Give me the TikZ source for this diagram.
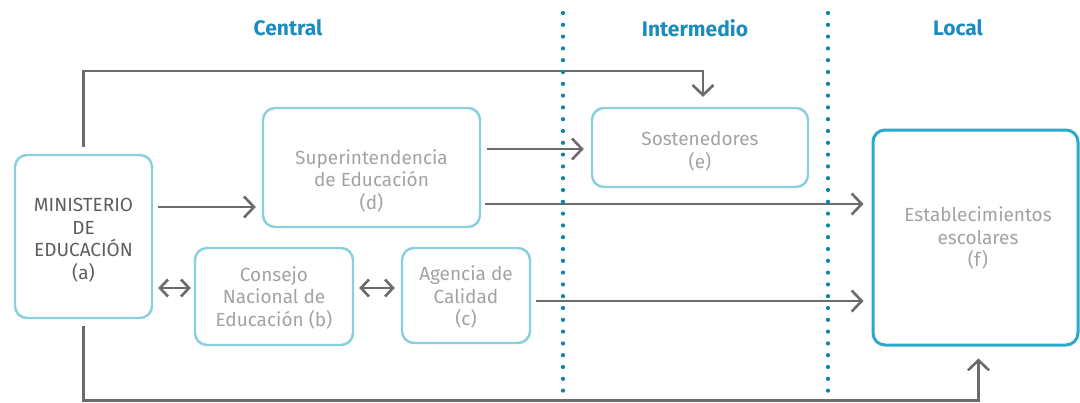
\documentclass[tikz,border=0pt]{standalone}
\usepackage{fontspec}
\setmainfont{Fira Sans}
\usetikzlibrary{arrows.meta}
\definecolor{boxc}{HTML}{8ACFDF}
\definecolor{boxf}{HTML}{2AA9CB}
\definecolor{arrc}{HTML}{6B6B6B}
\definecolor{txtc}{HTML}{A3A3A3}
\definecolor{txta}{HTML}{5E5E5E}
\definecolor{headc}{HTML}{1C8CC0}
\definecolor{dotc}{HTML}{0B84AE}
\begin{document}
\begin{tikzpicture}[x=1pt,y=-1pt,
  box/.style={draw=boxc, line width=2.4pt, rounded corners=12pt, inner sep=0pt},
  boxtext/.style={align=center, text=txtc, font=\fontsize{19}{22.5}\selectfont, inner sep=0pt},
  arr/.style={draw=arrc, line width=2.6pt, -{Straight Barb[length=10pt,width=21pt]}},
  darr/.style={draw=arrc, line width=2.6pt, {Straight Barb[length=8pt,width=17pt]}-{Straight Barb[length=8pt,width=17pt]}},
  head/.style={text=headc, font=\fontsize{21}{22}\selectfont\bfseries, inner sep=0pt},
  sep/.style={draw=dotc, line width=4.2pt, line cap=round, dash pattern=on 0pt off 11.8pt}]
\useasboundingbox (0,0) rectangle (1080,402);
\fill[white] (0,0) rectangle (1080,402);

% headers
\node[head] (hc) at (288,28) {Central};
\node[head] (hi) at (695,28) {Intermedio};
\node[head] (hl) at (958,28) {Local};

% boxes
\node[box, minimum width=137pt, minimum height=163pt] (a) at (83.5,236.5) {};
\node[box, minimum width=217pt, minimum height=119pt] (d) at (371.5,167.5) {};
\node[box, minimum width=158pt, minimum height=97pt] (b) at (274,296.5) {};
\node[box, minimum width=128pt, minimum height=95pt] (c) at (466,295.5) {};
\node[box, minimum width=216pt, minimum height=79pt] (e) at (700,147.5) {};
\node[box, draw=boxf, line width=3pt, minimum width=205pt, minimum height=215pt] (f) at (975.5,237.5) {};

% texts
\node[boxtext, text=txta] (at) at (83.5,240) {MINISTERIO\\DE\\EDUCACIÓN\\(a)};
\node[boxtext] (dt) at (371.5,180.5) {Superintendencia\\de Educación\\(d)};
\node[boxtext] (bt) at (274,297.5) {Consejo\\Nacional de\\Educación (b)};
\node[boxtext] (ct) at (466,297) {Agencia de\\Calidad\\(c)};
\node[boxtext] (et) at (700,151) {Sostenedores\\(e)};
\node[boxtext] (ft) at (978,238) {Establecimientos\\escolares\\(f)};

% connectors
\draw[arr] ([yshift=7pt]a.north) -- (a.north |- 0,71) -| ([xshift=3pt,yshift=10pt]e.north);
\draw[arr] ([xshift=5pt]a.east |- 0,207) -- ([xshift=-6pt]d.west |- 0,207);
\draw[arr] ([xshift=6pt]d.east |- 0,149) -- ([xshift=-7pt]e.west |- 0,149);
\draw[arr] ([xshift=4pt]d.east |- 0,204) -- ([xshift=-8pt]f.west |- 0,204);
\draw[arr] ([xshift=5pt]c.east |- 0,301) -- ([xshift=-8pt]f.west |- 0,301);
\draw[darr] ([xshift=5pt]a.east |- 0,288) -- ([xshift=-3pt]b.west |- 0,288);
\draw[darr] ([xshift=5pt]b.east |- 0,288) -- ([xshift=-6pt]c.west |- 0,288);
\draw[arr] ([yshift=-7pt]a.south) -- (a.south |- 0,400.5) -| ([xshift=3pt,yshift=-12pt]f.south);

% dotted separators
\coordinate (s1t) at (563,13);
\coordinate (s1b) at (563,396);
\coordinate (s2t) at (828,13);
\coordinate (s2b) at (828,396);
\draw[sep] (s1t) -- (s1b);
\draw[sep] (s2t) -- (s2b);
\end{tikzpicture}
\end{document}
